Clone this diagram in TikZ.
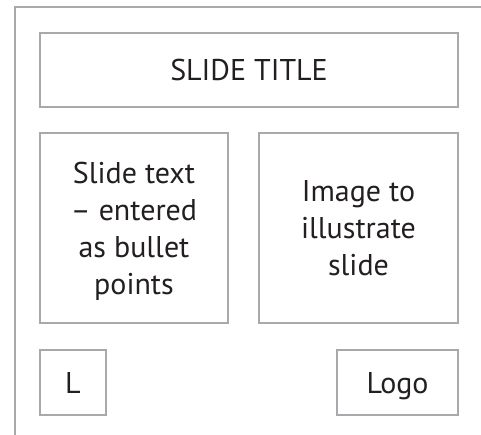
\documentclass[tikz,border=0pt]{standalone}
\usepackage{fontspec}
\setmainfont{PT Sans}
\definecolor{framegray}{HTML}{A7A9AC}
\definecolor{inktext}{HTML}{231F20}
\tikzset{
  box/.style={draw=framegray, line width=2.5pt, rectangle, inner sep=0pt,
    align=center, text=inktext, text depth=-6pt,
    font=\fontsize{30}{37}\selectfont},
  frameline/.style={draw=framegray, line width=2.5pt}
}
\begin{document}
\begin{tikzpicture}[x=1pt,y=-1pt]
\useasboundingbox (0,0) rectangle (481,435);
\draw[frameline] (15,435) -- (15,7) -- (481,7);
\node[box, minimum width=418pt, minimum height=74pt] (title) at (249,70) {SLIDE TITLE};
\node[box, minimum width=188pt, minimum height=190pt] (text) at (134,228) {Slide text\\– entered\\as bullet\\points};
\node[box, minimum width=199pt, minimum height=190pt] (image) at (358.5,228) {Image to\\illustrate\\slide};
\node[box, minimum width=66pt, minimum height=65pt] (l) at (73,382.5) {L};
\node[box, minimum width=121pt, minimum height=65pt] (logo) at (397.5,382.5) {Logo};
\end{tikzpicture}
\end{document}
